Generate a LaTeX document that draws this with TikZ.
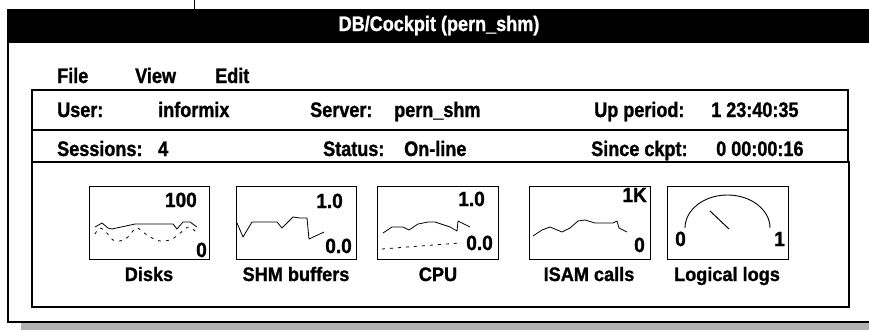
\documentclass[tikz,border=0pt]{standalone}
\usepackage{fontspec}
\newfontfamily\uifont[FakeStretch=0.86,FakeBold=1.2]{Liberation Sans}
\newfontfamily\monfont[FakeStretch=0.93,FakeBold=1.2]{Liberation Sans}
\begin{document}
\begin{tikzpicture}[x=1pt,y=-1pt,
  txt/.style={inner sep=0pt, anchor=base west, font=\uifont\bfseries\fontsize{21}{24}\selectfont},
  num/.style={inner sep=0pt, font=\monfont\bfseries\fontsize{20.5}{22}\selectfont},
  lbl/.style={inner sep=0pt, anchor=base, font=\monfont\bfseries\fontsize{19.5}{22}\selectfont},
  mbox/.style={draw, line width=1.3pt, minimum width=120pt, minimum height=73pt, anchor=north west, inner sep=0pt},
  spark/.style={line width=0.8pt, line join=round},
  dspark/.style={line width=0.8pt, dash pattern=on 3pt off 5pt}]
\useasboundingbox (0,0) rectangle (869,330);
% shadow
\fill[black!30] (21,322) rectangle (869,330);
% top connector line
\draw[line width=1pt] (194,0) -- (194,10);
% outer window
\fill[white] (8,10) rectangle (869,322);
\draw[line width=1.6pt] (872,10) -- (8,10) -- (8,322) -- (872,322);
% title bar
\fill[black] (8,10) rectangle (869,43);
\node[inner sep=0pt, anchor=base, text=white, font=\uifont\bfseries\fontsize{21}{24}\selectfont] (title) at (439,31) {DB/Cockpit (pern\_shm)};
% menu
\node[txt] (file) at (57,83) {File};
\node[txt] (view) at (135,83) {View};
\node[txt] (edit) at (215,83) {Edit};
% info box
\draw[line width=1.5pt] (32,90) rectangle (848,162);
\draw[line width=1.5pt] (32,130) -- (848,130);
\node[txt] (user) at (57,117) {User:};
\node[txt] (userv) at (158,117) {informix};
\node[txt] (server) at (310,117) {Server:};
\node[txt] (serverv) at (394,117) {pern\_shm};
\node[txt] (up) at (594,117) {Up period:};
\node[txt] (upv) at (711,117) {1 23:40:35};
\node[txt] (sess) at (57,156) {Sessions:};
\node[txt] (sessv) at (158,156) {4};
\node[txt] (status) at (323,156) {Status:};
\node[txt] (statusv) at (404,156) {On-line};
\node[txt] (since) at (591,156) {Since ckpt:};
\node[txt] (sincev) at (716,156) {0 00:00:16};
% monitor panel
\draw[line width=2.2pt] (32,162) rectangle (849,307);
% monitor boxes
\node[mbox] (disks) at (89,186) {};
\node[mbox] (shm) at (236,186) {};
\node[mbox, minimum width=121pt] (cpu) at (377,186) {};
\node[mbox, minimum width=121pt] (isam) at (529,186) {};
\node[mbox, minimum width=121pt] (logs) at (667,186) {};
% labels
\node[lbl] (ldisks) at (149,281) {Disks};
\node[lbl] (lshm) at (296,281) {SHM buffers};
\node[lbl] (lcpu) at (438,281) {CPU};
\node[lbl] (lisam) at (589,281) {ISAM calls};
\node[lbl] (llogs) at (727,281) {Logical logs};
% numbers
\node[num, anchor=base east] (d100) at (197,207) {100};
\node[num, anchor=base east] (d0) at (207,257) {0};
\node[num, anchor=base east] (s10) at (343,208) {1.0};
\node[num, anchor=base east] (s00) at (352,253) {0.0};
\node[num, anchor=base east] (c10) at (485,206) {1.0};
\node[num, anchor=base east] (c00) at (493,250) {0.0};
\node[num, anchor=base east] (i1k) at (647,202) {1K};
\node[num, anchor=base east] (i0) at (645,252) {0};
\node[num, anchor=base west] (l0) at (675,246) {0};
\node[num, anchor=base east] (l1) at (785,246) {1};
% disks sparklines
\draw[spark] (95,227) -- (102,223) -- (108,228) -- (112,229) -- (135,224) -- (173,224) -- (177,229) -- (183,222) -- (190,222) -- (197,227);
\draw[dspark] plot[smooth, tension=0.6] coordinates {(95,234) (100,228) (106,232) (113,240) (120,241) (128,237) (136,228) (143,232) (150,237) (160,241) (170,240) (178,235) (185,229) (190,227) (197,233)};
% shm sparkline
\draw[spark] (237,223) -- (243,237) -- (252,222) -- (277,222) -- (282,228) -- (293,217) -- (300,218) -- (307,218) -- (309,239) -- (324,232);
% cpu sparklines
\draw[spark] (383,233) -- (392,227) -- (403,227) -- (409,230) -- (418,224) -- (428,222) -- (435,222) -- (450,227) -- (457,231) -- (458,221) -- (470,227);
\draw[dspark] (382,249) -- (420,246) -- (460,243);
% isam sparkline
\draw[spark] (533,236) -- (542,230) -- (550,227) -- (562,232) -- (570,228) -- (578,221) -- (585,220) -- (595,223) -- (613,223) -- (617,221) -- (619,228) -- (627,232);
% logical logs gauge
\draw[line width=0.9pt] (685,228) arc[start angle=180, end angle=360, x radius=42.5, y radius=33];
\draw[line width=1pt] (710,211) -- (729,229);
\end{tikzpicture}
\end{document}
